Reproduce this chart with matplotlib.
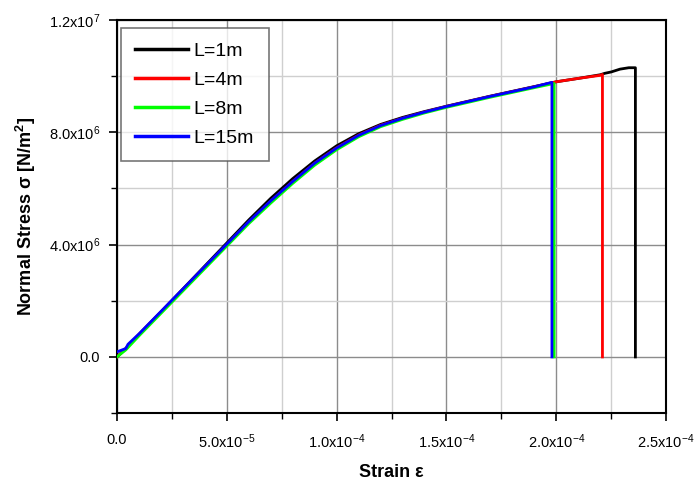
import matplotlib
matplotlib.use("Agg")
import matplotlib.pyplot as plt
from matplotlib.ticker import FixedLocator, MultipleLocator

plt.rcParams['font.family'] = ['Liberation Sans', 'DejaVu Sans']
plt.rcParams['mathtext.fontset'] = 'custom'
plt.rcParams['mathtext.rm'] = 'Liberation Sans'
plt.rcParams['mathtext.it'] = 'Liberation Sans:italic'
plt.rcParams['mathtext.bf'] = 'Liberation Sans:bold'

# Data (strain in 1e-5, stress in 1e6 N/m^2)
l1_strain = [0, 0.4, 1, 2, 3, 4, 5, 6, 7, 8, 9, 10, 11, 12, 13, 14, 15, 16, 17, 18, 19, 20, 21, 22, 22.2, 22.5, 22.9, 23.3, 23.6, 23.6]
l1_stress = [0, 0.3, 0.8, 1.6, 2.42, 3.24, 4.06, 4.88, 5.65, 6.35, 6.98, 7.52, 7.95, 8.28, 8.53, 8.74, 8.93, 9.11, 9.29, 9.46, 9.63, 9.8, 9.92, 10.05, 10.1, 10.15, 10.25, 10.3, 10.3, 0]

l4_strain = [0, 0.4, 1, 2, 3, 4, 5, 6, 7, 8, 9, 10, 11, 12, 13, 14, 15, 16, 17, 18, 19, 20, 21, 22, 22.1, 22.1]
l4_stress = [0, 0.3, 0.8, 1.6, 2.4, 3.2, 4.0, 4.8, 5.55, 6.25, 6.9, 7.45, 7.9, 8.25, 8.5, 8.72, 8.92, 9.1, 9.28, 9.45, 9.62, 9.8, 9.92, 10.03, 10.06, 0]

l8_strain = [0, 0.4, 1, 2, 3, 4, 5, 6, 7, 8, 9, 10, 11, 12, 13, 14, 15, 16, 17, 18, 19, 19.9, 19.9]
l8_stress = [0, 0.25, 0.75, 1.55, 2.35, 3.15, 3.95, 4.75, 5.48, 6.18, 6.83, 7.38, 7.84, 8.2, 8.46, 8.69, 8.89, 9.07, 9.25, 9.42, 9.59, 9.74, 0]

l15_strain = [0, 0.4, 0.5, 1, 2, 3, 4, 5, 6, 7, 8, 9, 10, 11, 12, 13, 14, 15, 16, 17, 18, 19, 19.8, 19.8]
l15_stress = [0.18, 0.3, 0.45, 0.82, 1.62, 2.42, 3.22, 4.02, 4.82, 5.56, 6.25, 6.9, 7.44, 7.89, 8.24, 8.5, 8.72, 8.92, 9.1, 9.28, 9.45, 9.62, 9.78, 0]

series = [
    ("L=1m", l1_strain, l1_stress, "#000000"),
    ("L=4m", l4_strain, l4_stress, "#ff0000"),
    ("L=8m", l8_strain, l8_stress, "#00ff00"),
    ("L=15m", l15_strain, l15_stress, "#0000ff"),
]

x_major = [0, 5e-5, 1e-4, 1.5e-4, 2e-4, 2.5e-4]
x_labels = ["0.0", r"5.0x10$^{-5}$", r"1.0x10$^{-4}$", r"1.5x10$^{-4}$", r"2.0x10$^{-4}$", r"2.5x10$^{-4}$"]
y_major = [0, 4e6, 8e6, 1.2e7]
y_labels = ["0.0", r"4.0x10$^{6}$", r"8.0x10$^{6}$", r"1.2x10$^{7}$"]

fig = plt.figure(figsize=(6.99, 4.82), dpi=100)
ax = fig.add_axes([0.1674, 0.143, 0.7856, 0.8155])

for name, xs, ys, c in series:
    ax.plot([v * 1e-5 for v in xs], [v * 1e6 for v in ys], color=c, lw=2.0, label=name, zorder=3)

ax.set_xlim(0, 2.5e-4)
ax.set_ylim(-2e6, 1.2e7)
ax.xaxis.set_major_locator(FixedLocator(x_major))
ax.set_xticklabels(x_labels)
ax.xaxis.set_minor_locator(MultipleLocator(2.5e-5))
ax.yaxis.set_major_locator(FixedLocator(y_major))
ax.set_yticklabels(y_labels)
ax.yaxis.set_minor_locator(MultipleLocator(2e6))

ax.grid(which='major', color='#8c8c8c', lw=1.0, zorder=0)
ax.grid(which='minor', color='#cfcfcf', lw=1.0, zorder=0)
ax.set_axisbelow(True)

ax.tick_params(axis='x', which='major', pad=8)
ax.tick_params(axis='y', which='major', pad=6)
ax.tick_params(which='major', direction='out', length=6, width=1.2, labelsize=10.5)
ax.tick_params(which='minor', direction='out', length=4, width=1.0)
for s in ax.spines.values():
    s.set_linewidth(1.5)

ax.set_xlabel("Strain ε", fontsize=13, fontweight='bold', labelpad=9)
ax.set_ylabel(r"Normal Stress σ [N/m$^{\mathbf{2}}$]", fontsize=13, fontweight='bold', labelpad=8)

leg = ax.legend(loc='upper left', fontsize=14, frameon=True, fancybox=False,
                edgecolor='#555555', handlelength=2.7, borderpad=0.75, labelspacing=0.58,
                handletextpad=0.3, borderaxespad=0.0, bbox_to_anchor=(0.007, 0.98))
leg.get_frame().set_linewidth(1.2)
for line in leg.get_lines():
    line.set_linewidth(2.5)

fig.savefig("out.png", dpi=100)
